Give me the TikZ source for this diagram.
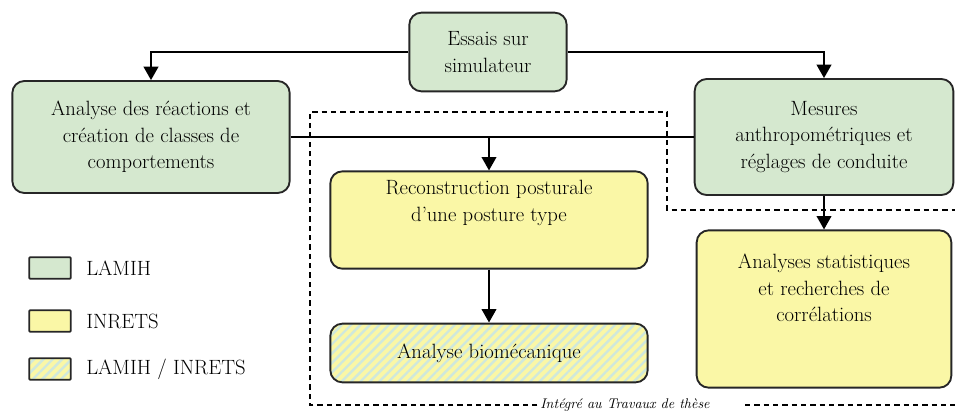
\documentclass[tikz,border=0pt]{standalone}
\usetikzlibrary{arrows.meta,patterns.meta}
\definecolor{lamih}{HTML}{D5E8CF}
\definecolor{inrets}{HTML}{FAF7A6}
\definecolor{hatch}{HTML}{CFE8DC}
\begin{document}
\begin{tikzpicture}[
  x=0.75pt, y=-0.75pt,
  font=\fontsize{15.5}{20}\selectfont,
  box/.style={draw=black!85, line width=1.4pt, rounded corners=9pt,
              align=center, inner sep=2pt},
  lam/.style={box, fill=lamih},
  inr/.style={box, fill=inrets},
  mix/.style={box, preaction={fill=inrets},
              pattern={Lines[angle=45,distance=5pt,line width=1.8pt]}, pattern color=hatch},
  txt/.style={align=center, inner sep=0pt},
  leg/.style={draw=black!85, line width=1.3pt, rounded corners=0.5pt,
              minimum width=31pt, minimum height=16pt, inner sep=0pt},
  e/.style={line width=1.2pt, -{Triangle[width=11pt,length=10pt]}},
  frame/.style={line width=1.1pt, dash pattern=on 4pt off 3pt}
]
\useasboundingbox (0,0) rectangle (955,412);

% upper row
\node[lam, minimum width=118pt, minimum height=59pt] (essais) at (488,52)
  {Essais sur\\simulateur};
\node[lam, minimum width=208pt, minimum height=84pt] (analyse) at (151,137)
  {Analyse des réactions et\\création de classes de\\comportements};
\node[lam, minimum width=194pt, minimum height=87pt] (mesures) at (824,137)
  {Mesures\\anthropométriques et\\réglages de conduite};

% lower boxes
\node[inr, minimum width=238pt, minimum height=73pt] (reco) at (489,220) {};
\node[txt] (recotxt) at (489,203) {Reconstruction posturale\\d'une posture type};
\node[mix, minimum width=238pt, minimum height=44pt] (bio) at (489,353)
  {Analyse biomécanique};
\node[inr, minimum width=191pt, minimum height=118pt] (stats) at (824,309) {};
\node[txt] (statstxt) at (824,288) {Analyses statistiques\\et recherches de\\corrélations};

% legend
\node[leg, fill=lamih] (leglamih) at (50,268) {};
\node[leg, fill=inrets] (leginrets) at (50,321) {};
\node[leg, preaction={fill=inrets},
      pattern={Lines[angle=45,distance=5pt,line width=1.8pt]}, pattern color=hatch]
  (legmix) at (50,369) {};
\node[txt, anchor=west] (tlamih) at (86,268) {LAMIH};
\node[txt, anchor=west] (tinrets) at (86,321) {INRETS};
\node[txt, anchor=west] (tmix) at (86,369) {LAMIH / INRETS};

% edges
\draw[e] (essais.west) -| (analyse.north);
\draw[e] (essais.east) -| (mesures.north);
\draw[line width=1.2pt] (analyse.east) -- (mesures.west);
\coordinate (split) at (reco.north |- analyse.east);
\draw[e] (split) -- (reco.north);
\draw[e] (reco.south) -- (bio.north);
\draw[e] (mesures.south) -- (stats.north);

% thesis frame
\node[font=\fontsize{10.5}{13}\selectfont\itshape, inner sep=2pt] (these) at (625,405)
  {Intégré au Travaux de thèse};
\coordinate (fa) at (310,112);
\coordinate (fb) at (667,210);
\coordinate (fc) at (955,210);
\coordinate (fd) at (745,405);
\coordinate (fe) at (955,405);
\draw[frame] (these.west) -| (fa) -| (fb) -- (fc);
\draw[frame] (fd) -- (fe);

\end{tikzpicture}
\end{document}
